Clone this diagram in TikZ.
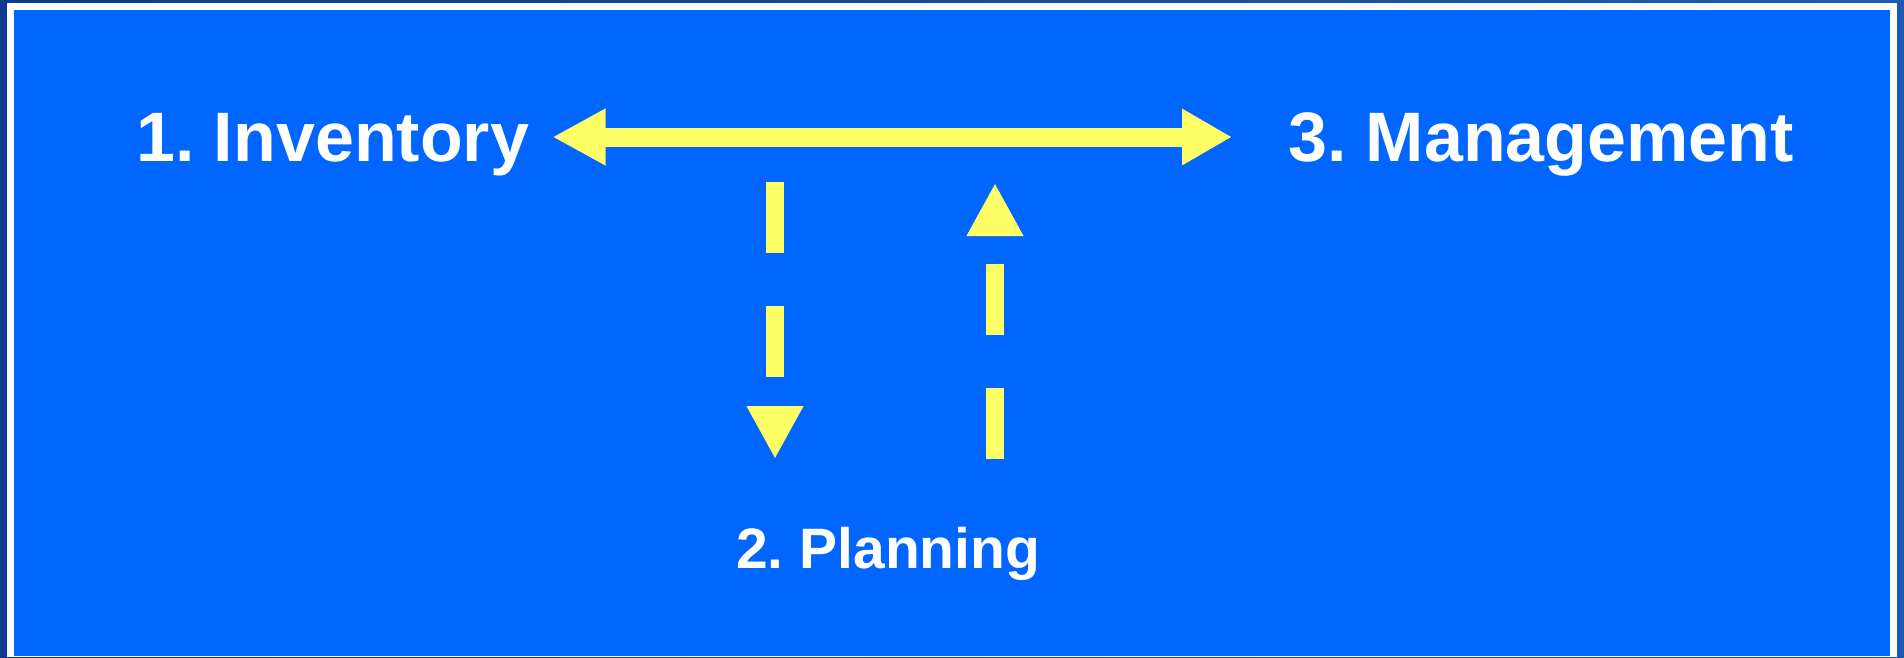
\documentclass[tikz,border=0pt]{standalone}
\usepackage{fontspec}
\setmainfont{Liberation Sans}
\usetikzlibrary{positioning, arrows.meta}

\definecolor{framedark}{RGB}{14,58,142}
\definecolor{frameright}{RGB}{30,90,176}
\definecolor{panelblue}{RGB}{0,102,255}
\definecolor{arrowyellow}{RGB}{255,255,102}

\begin{document}
\frenchspacing
\begin{tikzpicture}[
    x=1pt, y=-1pt,
    title/.style={anchor=base west, inner sep=0pt, text=white, font=\bfseries\fontsize{70}{80}\selectfont},
    subtitle/.style={anchor=base west, inner sep=0pt, text=white, font=\bfseries\fontsize{57}{64}\selectfont},
    head/.style={Triangle[length=52pt, width=53pt]},
    link/.style={draw=arrowyellow, line width=19pt},
    dashlink/.style={draw=arrowyellow, line width=18.7pt, dash pattern=on 71pt off 53pt, -{Triangle[length=53pt, width=53pt]}}
]

% ================= Frame =================
\useasboundingbox (0,0) rectangle (1904,657);
\shade[left color=framedark, right color=frameright] (0,0) rectangle (1904,657);
\fill[white] (7,3) rectangle (1897,657);
\fill[panelblue] (14,10) rectangle (1890,656);

% ================= Nodes =================
\node[title] (inventory) at (136,161) {1. Inventory};
\node[title] (management) at (1288,161) {3. Management};
\node[subtitle] (planning) at (736,568) {2. Planning};

% arrow ends
\coordinate (inv_end) at (552.5,137);
\coordinate (man_end) at (1232,137);
\coordinate (down_start) at (775,182);
\coordinate (down_end) at (775,459);
\coordinate (up_start) at (995,459);
\coordinate (up_end) at (995,183);

% ================= Edges =================
\draw[link, {Triangle[length=53pt, width=53pt]}-{Triangle[length=50pt, width=53pt]}] (inv_end) -- (man_end);
\draw[dashlink] (down_start) -- (down_end);
\draw[dashlink] (up_start) -- (up_end);

\end{tikzpicture}
\end{document}
